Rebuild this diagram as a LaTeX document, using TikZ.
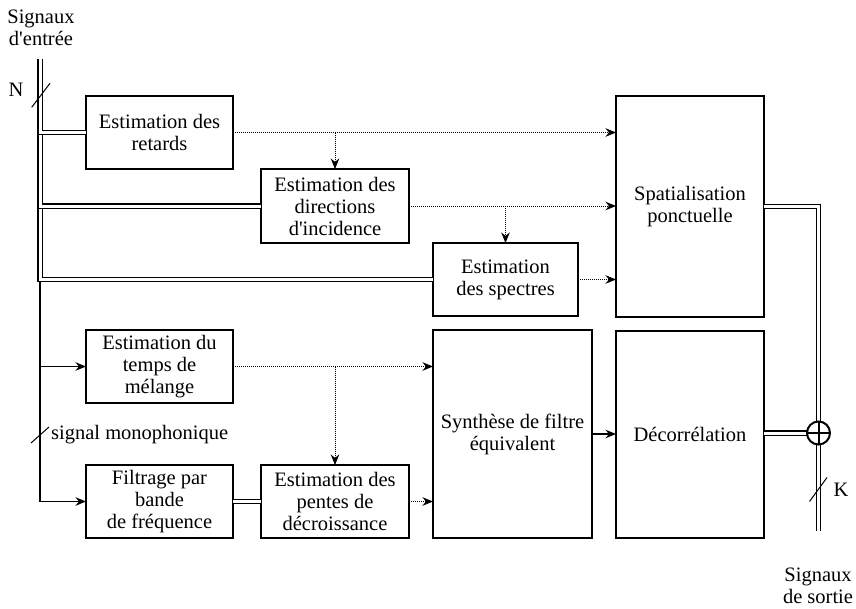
\documentclass[tikz,border=0pt]{standalone}
\usepackage{fontspec}
\setmainfont{Liberation Serif}
\usetikzlibrary{arrows.meta}
\begin{document}
\begin{tikzpicture}[x=1pt,y=-1pt,
  every node/.style={font=\fontsize{20.5}{22}\selectfont},
  box/.style={draw, line width=1.1pt, align=center, inner sep=0pt, outer sep=0pt},
  bus/.style={double, double distance=3pt, line width=1.1pt, line join=miter},
  sig/.style={line width=1.1pt, -{Stealth[length=10.5pt,width=8.5pt]}},
  dotarrow/.style={line width=0.9pt, dash pattern=on 0.9pt off 1.1pt, -{Stealth[length=10.5pt,width=8.5pt]}},
  tick/.style={line width=1pt}]
\useasboundingbox (0,0) rectangle (856,608);

% boxes
\node[box, minimum width=147pt, minimum height=73pt] (ret) at (159.5,132.5) {Estimation des\\retards};
\node[box, minimum width=148pt, minimum height=74pt] (dir) at (335,206) {Estimation des\\directions\\d\textquotesingle incidence};
\node[box, minimum width=145pt, minimum height=73pt] (spe) at (505.5,279.5) {Estimation\\des spectres};
\node[box, minimum width=148pt, minimum height=221pt] (spa) at (690,206.5) {Spatialisation\\ponctuelle};
\node[box, minimum width=147pt, minimum height=73pt] (tps) at (159.5,366.5) {Estimation du\\temps de\\mélange};
\node[box, minimum width=147pt, minimum height=73pt] (fil) at (159.5,501.5) {Filtrage par\\bande\\de fréquence};
\node[box, minimum width=148pt, minimum height=73pt] (pen) at (335,501.5) {Estimation des\\pentes de\\décroissance};
\node[box, minimum width=159pt, minimum height=208pt] (syn) at (512.5,434) {Synthèse de filtre\\équivalent};
\node[box, minimum width=148pt, minimum height=207pt] (dec) at (690,434.5) {Décorrélation};

% input bus
\coordinate (in) at (40,59);
\draw[bus] (in) |- (spe.west);
\draw[bus] (in) |- (dir.west);
\draw[bus] (in) |- (ret.west);

% mono signal
\coordinate (mono) at (40,281);
\draw[sig] (mono) |- (tps.west);
\draw[sig] (mono) |- (fil.west);
\draw[bus] (fil.east) -- (pen.west);

% dotted parameter flows
\draw[dotarrow] (ret.east) -- (ret.east -| spa.west);
\draw[dotarrow] (ret.east -| dir.north) -- (dir.north);
\draw[dotarrow] (dir.east) -- (dir.east -| spa.west);
\draw[dotarrow] (dir.east -| spe.north) -- (spe.north);
\draw[dotarrow] (spe.east) -- (spe.east -| spa.west);
\draw[dotarrow] (tps.east) -- (tps.east -| syn.west);
\draw[dotarrow] (tps.east -| pen.north) -- (pen.north);
\draw[dotarrow] (pen.east) -- (pen.east -| syn.west);
\draw[sig] (syn.east) -- (syn.east -| dec.west);

% output
\coordinate (sumc) at (818.5,433);
\coordinate (outend) at (818.5,531);
\draw[bus] (spa.east) -| (outend);
\draw[bus] (dec.east |- sumc) -- (sumc);
\node[circle, draw, fill=white, line width=2pt, minimum size=23pt, inner sep=0pt, outer sep=0pt] (sum) at (sumc) {};
\draw[line width=2pt] (sum.north) -- (sum.south) (sum.west) -- (sum.east);

% ticks and labels
\draw[tick] (31.7,107.3) -- (50,83.3);
\draw[tick] (31,443) -- (49,427);
\draw[tick] (809.5,501.5) -- (827,477.5);
\node[align=center] (lin) at (41,28) {Signaux\\d\textquotesingle entrée};
\node (lN) at (16,90) {N};
\node[anchor=west, inner sep=0pt] (lmono) at (51,435) {signal monophonique};
\node (lK) at (841,490) {K};
\node[align=center] (lout) at (818,586) {Signaux\\de sortie};
\end{tikzpicture}
\end{document}
